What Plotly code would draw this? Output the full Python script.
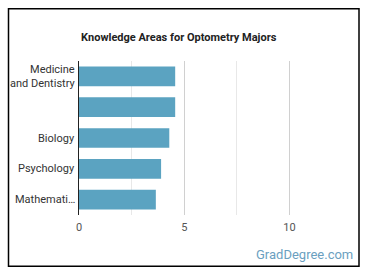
import plotly.graph_objects as go

categories = ["Medicine<br>and Dentistry", " ", "Biology", "Psychology", "Mathemati…"]
values = [4.57, 4.57, 4.29, 3.90, 3.65]
tick_vals = [0, 5, 10]
tick_text = ["0", "5", "10"]

fig = go.Figure(go.Bar(
    x=values, y=list(range(len(categories))), orientation="h",
    marker=dict(color="#5ba3c1", line=dict(width=0)),
    width=0.64,
))

L, R, T, B = 79, 30, 61, 62.5
W, H = 370, 278
pw, ph = W - L - R, H - T - B

annotations = [dict(text=c, xref="paper", yref="y", x=0, y=i,
                    xanchor="right", yanchor="middle", align="right",
                    xshift=-2, showarrow=False,
                    font=dict(family="Roboto", size=11, color="#333"))
               for i, c in enumerate(categories)]
annotations.append(dict(text="GradDegree.com", xref="paper", yref="paper",
                        x=(355 - L) / pw, y=(H - B - 255) / ph,
                        xanchor="right", yanchor="middle", showarrow=False,
                        font=dict(family="Roboto", size=13, color="#6b9fbf")))

fig.update_layout(
    width=W, height=H,
    margin=dict(l=L, r=R, t=T, b=B),
    paper_bgcolor="white", plot_bgcolor="white",
    font=dict(family="Roboto", size=11, color="#444"),
    title=dict(text="<b>Knowledge Areas for Optometry Majors</b>",
               x=0.483, xanchor="center", y=1 - 37 / H, yanchor="middle",
               font=dict(family="Roboto", size=11, color="#222")),
    showlegend=False,
    xaxis=dict(range=[0, 12.4], tickvals=tick_vals, ticktext=tick_text,
               showgrid=True, gridcolor="#d0d0d0", gridwidth=1,
               minor=dict(dtick=2.5, tick0=0, showgrid=True, gridcolor="#e8e8e8"),
               zeroline=False, showline=False, ticks="", ticklabelstandoff=4,
               tickfont=dict(size=11, color="#555"), fixedrange=True),
    yaxis=dict(range=[len(categories) - 0.5, -0.5], showline=True, linecolor="#222", linewidth=1,
               showgrid=False, ticks="", showticklabels=False, fixedrange=True),
    shapes=[dict(type="rect", xref="paper", yref="paper",
                 x0=(8.5 - L) / pw, x1=(359 - L) / pw,
                 y0=(H - B - 267) / ph, y1=(H - B - 8.5) / ph,
                 line=dict(color="black", width=1.5))],
    annotations=annotations,
)

fig.write_html("out.html")
